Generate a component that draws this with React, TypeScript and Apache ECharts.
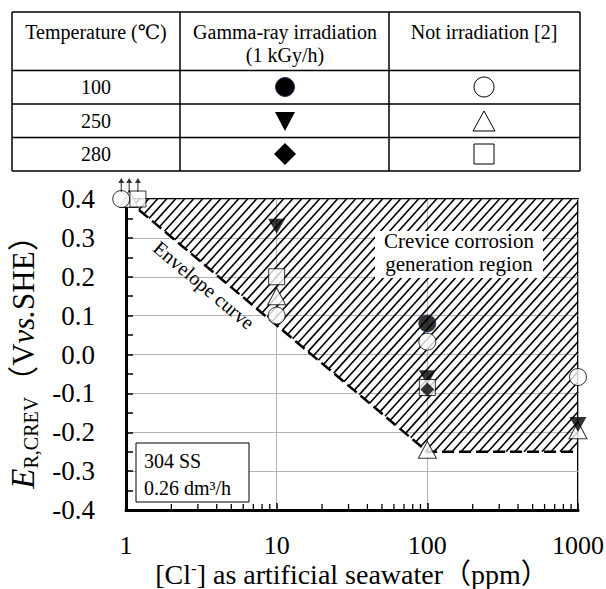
import React, { useEffect, useRef } from 'react';
import * as echarts from 'echarts';

// ---------- data ----------
const xTickLabels = ['1', '10', '100', '1000'];
const yTickLabels = ['-0.4', '-0.3', '-0.2', '-0.1', '0.0', '0.1', '0.2', '0.3', '0.4'];

// Gamma-ray irradiation (1 kGy/h)
const gamma100: number[][] = [[100, 0.08]];
const gamma250: number[][] = [[10, 0.33], [100, -0.06], [1000, -0.18]];
const gamma280: number[][] = [[100, -0.09]];
// Not irradiation [2]
const not100: number[][] = [[0.93, 0.4], [10, 0.1], [100, 0.033], [1000, -0.058]];
const not250: number[][] = [[1.05, 0.4], [10, 0.15], [100, -0.245], [1000, -0.195]];
const not280: number[][] = [[1.2, 0.4], [10, 0.2], [100, -0.085]];
// values above the plotted range (arrows)
const aboveRange: number[][] = [[0.93, 0.4], [1.05, 0.4], [1.2, 0.4]];

// envelope curve and crevice corrosion region
const envelopeX = [1, 100, 1000];
const envelopeY = [0.4, -0.25, -0.25];
const regionX = [1, 1000, 1000, 100];
const regionY = [0.4, 0.4, -0.25, -0.25];

const xMinorTicks = [2, 3, 4, 5, 6, 7, 8, 9, 20, 30, 40, 50, 60, 70, 80, 90, 200, 300, 400, 500, 600, 700, 800, 900];

const tableRows = ['100', '250', '280'];

// ---------- styling ----------
const SERIF = '"Liberation Serif", "Times New Roman", "DejaVu Serif", "Noto Sans CJK JP", serif';

function buildTable(): any[] {
  const cols = [12, 180, 389, 580];
  const rows = [12, 70.5, 104, 137.5, 171];
  const els: any[] = [];
  const ls = { stroke: '#000', lineWidth: 1.5 };
  rows.forEach((y) => els.push({ type: 'line', shape: { x1: cols[0], y1: y, x2: cols[3], y2: y }, style: ls }));
  cols.forEach((x) => els.push({ type: 'line', shape: { x1: x, y1: rows[0], x2: x, y2: rows[4] }, style: ls }));
  const t = (text: string, x: number, y: number) => ({
    type: 'text',
    x, y,
    style: { text, fill: '#000', font: '20px ' + SERIF, textAlign: 'center', textVerticalAlign: 'middle' },
  });
  els.push(t('Temperature (℃)', 96, 32));
  els.push(t('Gamma-ray irradiation', 285, 32));
  els.push(t('(1 kGy/h)', 285, 55));
  els.push(t('Not irradiation [2]', 484, 32));
  const cy = [87, 121, 154];
  tableRows.forEach((r, i) => els.push(t(r, 96, cy[i])));
  const c2 = 285, c3 = 484;
  els.push({ type: 'circle', shape: { cx: c2, cy: cy[0], r: 9.5 }, style: { fill: '#000', stroke: '#1f3864', lineWidth: 1 } });
  els.push({ type: 'polygon', shape: { points: [[c2 - 10, cy[1] - 9], [c2 + 10, cy[1] - 9], [c2, cy[1] + 10]] }, style: { fill: '#000' } });
  els.push({ type: 'polygon', shape: { points: [[c2, cy[2] - 11], [c2 + 11, cy[2]], [c2, cy[2] + 11], [c2 - 11, cy[2]]] }, style: { fill: '#000' } });
  els.push({ type: 'circle', shape: { cx: c3, cy: cy[0], r: 10 }, style: { fill: '#fff', stroke: '#000', lineWidth: 1 } });
  els.push({ type: 'polygon', shape: { points: [[c3, cy[1] - 10], [c3 + 11, cy[1] + 10], [c3 - 11, cy[1] + 10]] }, style: { fill: '#fff', stroke: '#000', lineWidth: 1 } });
  els.push({ type: 'rect', shape: { x: c3 - 10, y: cy[2] - 10, width: 20, height: 20 }, style: { fill: '#fff', stroke: '#000', lineWidth: 1 } });
  return els;
}

function buildAnnotations(): any[] {
  const els: any[] = [];
  // crevice corrosion region label
  els.push({ type: 'rect', z: 100, shape: { x: 375, y: 231, width: 168, height: 47 }, style: { fill: '#fff' } });
  els.push({
    type: 'text', z: 101, x: 459, y: 241,
    style: { text: 'Crevice corrosion', fill: '#000', font: '21px ' + SERIF, textAlign: 'center', textVerticalAlign: 'middle' },
  });
  els.push({
    type: 'text', z: 101, x: 459, y: 264,
    style: { text: 'generation region', fill: '#000', font: '21px ' + SERIF, textAlign: 'center', textVerticalAlign: 'middle' },
  });
  // envelope curve label
  els.push({
    type: 'text', z: 101, x: 204, y: 285, rotation: -40 * Math.PI / 180,
    style: { text: 'Envelope curve', fill: '#000', font: '20px ' + SERIF, textAlign: 'center', textVerticalAlign: 'middle' },
  });
  // material box
  els.push({ type: 'rect', z: 100, shape: { x: 136, y: 443, width: 113, height: 59 }, style: { fill: '#fff', stroke: '#000', lineWidth: 1 } });
  els.push({
    type: 'text', z: 101, x: 144, y: 461,
    style: { text: '304 SS', fill: '#000', font: '20px ' + SERIF, textAlign: 'left', textVerticalAlign: 'middle' },
  });
  els.push({
    type: 'text', z: 101, x: 144, y: 488,
    style: { text: '0.26 dm³/h', fill: '#000', font: '20px ' + SERIF, textAlign: 'left', textVerticalAlign: 'middle' },
  });
  return els;
}

const openStyle = { color: '#fff', borderColor: '#000', borderWidth: 1 };

export default function App() {
  const ref = useRef<HTMLDivElement>(null);
  useEffect(() => {
    if (!ref.current) return;
    const chart = echarts.init(ref.current, undefined, { renderer: 'svg' });
    const option: any = {
      animation: false,
      backgroundColor: '#fff',
      grid: {
        left: 126, right: 28, top: 199, bottom: 79, containLabel: false, outerBoundsMode: 'none',
        show: true, borderColor: '#000', borderWidth: 2, backgroundColor: 'transparent',
      },
      xAxis: {
        type: 'log',
        logBase: 10,
        min: 1,
        max: 1000,
        name: '[Cl{sup|-}] as artificial seawater（ppm）',
        nameLocation: 'middle',
        nameGap: 50,
        nameMoveOverlap: false,
        nameTextStyle: {
          fontFamily: SERIF, fontSize: 28, color: '#000', lineHeight: 28,
          rich: { sup: { fontFamily: SERIF, fontSize: 17, lineHeight: 14, verticalAlign: 'top', color: '#000' } },
        },
        axisLine: { onZero: false, lineStyle: { color: '#000', width: 3 } },
        axisTick: { show: true, inside: true, length: 7, lineStyle: { color: '#000', width: 1.5 } },
        axisLabel: {
          margin: 22, color: '#000', fontFamily: SERIF, fontSize: 26, lineHeight: 26,
          formatter: (v: number) => {
            const i = Math.round(Math.log10(v));
            return xTickLabels[i] ?? String(v);
          },
        },
        splitLine: { show: true, lineStyle: { color: '#b4b4b4', width: 1 } },
      },
      yAxis: {
        type: 'value',
        min: -0.4,
        max: 0.4,
        interval: 0.1,
        name: '{e|E}{sub|R,CREV}（V{i|vs.}SHE）',
        nameLocation: 'middle',
        nameRotate: 90,
        nameGap: 83,
        nameTextStyle: {
          fontFamily: SERIF, fontSize: 31, color: '#000', lineHeight: 36,
          rich: {
            e: { fontFamily: SERIF, fontSize: 33, fontStyle: 'italic', color: '#000', lineHeight: 36 },
            sub: { fontFamily: SERIF, fontSize: 20, color: '#000', lineHeight: 18, verticalAlign: 'bottom' },
            i: { fontFamily: SERIF, fontSize: 31, fontStyle: 'italic', color: '#000', lineHeight: 36 },
          },
        },
        axisLine: { lineStyle: { color: '#000', width: 3 } },
        axisTick: { show: true, inside: true, length: 7, lineStyle: { color: '#000', width: 1.5 } },
        minorTick: { show: true, splitNumber: 2, length: 7, lineStyle: { color: '#000', width: 1.5 } },
        axisLabel: {
          margin: 31, color: '#000', fontFamily: SERIF, fontSize: 27,
          formatter: (v: number) => {
            const i = Math.round((v + 0.4) * 10);
            return yTickLabels[i] ?? v.toFixed(1);
          },
        },
        splitLine: { show: true, lineStyle: { color: '#b4b4b4', width: 1 } },
      },
      series: [
        {
          type: 'custom',
          name: 'region',
          silent: true,
          z: 1,
          data: [[regionX[0], regionY[0]]],
          renderItem: (params: any, api: any) => {
            const pts = regionX.map((x, i) => api.coord([x, regionY[i]]));
            const tanA = Math.tan((48 * Math.PI) / 180);
            const vals = pts.map((p: number[]) => tanA * p[0] + p[1]);
            const bMin = Math.min(...vals);
            const bMax = Math.max(...vals);
            const step = tanA * 9;
            const children: any[] = [];
            for (let b = bMin + step / 2; b < bMax; b += step) {
              const hits: number[][] = [];
              for (let i = 0; i < pts.length; i++) {
                const P = pts[i];
                const Q = pts[(i + 1) % pts.length];
                const fp = tanA * P[0] + P[1] - b;
                const fq = tanA * Q[0] + Q[1] - b;
                if ((fp <= 0 && fq > 0) || (fp > 0 && fq <= 0)) {
                  const t = fp / (fp - fq);
                  hits.push([P[0] + t * (Q[0] - P[0]), P[1] + t * (Q[1] - P[1])]);
                }
              }
              if (hits.length >= 2) {
                hits.sort((a, c) => a[0] - c[0]);
                const a = hits[0];
                const c = hits[hits.length - 1];
                children.push({ type: 'line', shape: { x1: a[0], y1: a[1], x2: c[0], y2: c[1] }, style: { stroke: '#000', lineWidth: 1.6 } });
              }
            }
            return { type: 'group', children };
          },
        },
        {
          type: 'custom',
          name: 'minorTicks',
          silent: true,
          z: 2,
          data: xMinorTicks.map((v) => [v, -0.4]),
          renderItem: (params: any, api: any) => {
            const p = api.coord([api.value(0), -0.4]);
            return { type: 'line', shape: { x1: p[0], y1: p[1], x2: p[0], y2: p[1] - 6 }, style: { stroke: '#000', lineWidth: 1.3 } };
          },
        },
        {
          type: 'line',
          name: 'Envelope curve',
          z: 3,
          silent: true,
          symbol: 'none',
          data: envelopeX.map((x, i) => [x, envelopeY[i]]),
          lineStyle: { color: '#000', width: 2.5, type: [12, 5] },
        },
        {
          type: 'scatter', name: '250 not', z: 4, clip: false,
          symbol: 'triangle', symbolSize: [18, 17], data: not250, itemStyle: openStyle,
        },
        {
          type: 'scatter', name: '100 gamma', z: 4, clip: false,
          symbol: 'circle', symbolSize: 17, data: gamma100, itemStyle: { color: '#000', borderColor: '#1f3864', borderWidth: 1 },
        },
        {
          type: 'scatter', name: '250 gamma', z: 4, clip: false,
          symbol: 'triangle', symbolRotate: 180, symbolSize: [17, 15], data: gamma250, itemStyle: { color: '#000' },
        },
        {
          type: 'scatter', name: '100 not', z: 4, clip: false,
          symbol: 'circle', symbolSize: 17, data: not100, itemStyle: openStyle,
        },
        {
          type: 'scatter', name: '280 not', z: 4, clip: false,
          symbol: 'rect', symbolSize: 16, data: not280, itemStyle: openStyle,
        },
        {
          type: 'scatter', name: '280 gamma', z: 4, clip: false,
          symbol: 'diamond', symbolSize: 14, data: gamma280, itemStyle: { color: '#000' },
        },
        {
          type: 'scatter', name: 'above', z: 5, clip: false,
          symbol: 'path://M4,0 L8,7 L4.7,7 L4.7,20 L3.3,20 L3.3,7 L0,7 Z',
          symbolSize: [6, 14], symbolOffset: [0, -14],
          data: aboveRange, itemStyle: { color: '#000' },
        },
      ],
      graphic: { elements: [...buildTable(), ...buildAnnotations()] },
    };
    chart.setOption(option);
    return () => chart.dispose();
  }, []);
  return <div ref={ref} style={{ position: 'absolute', left: 0, top: 0, width: 606, height: 589, background: '#fff' }} />;
}
